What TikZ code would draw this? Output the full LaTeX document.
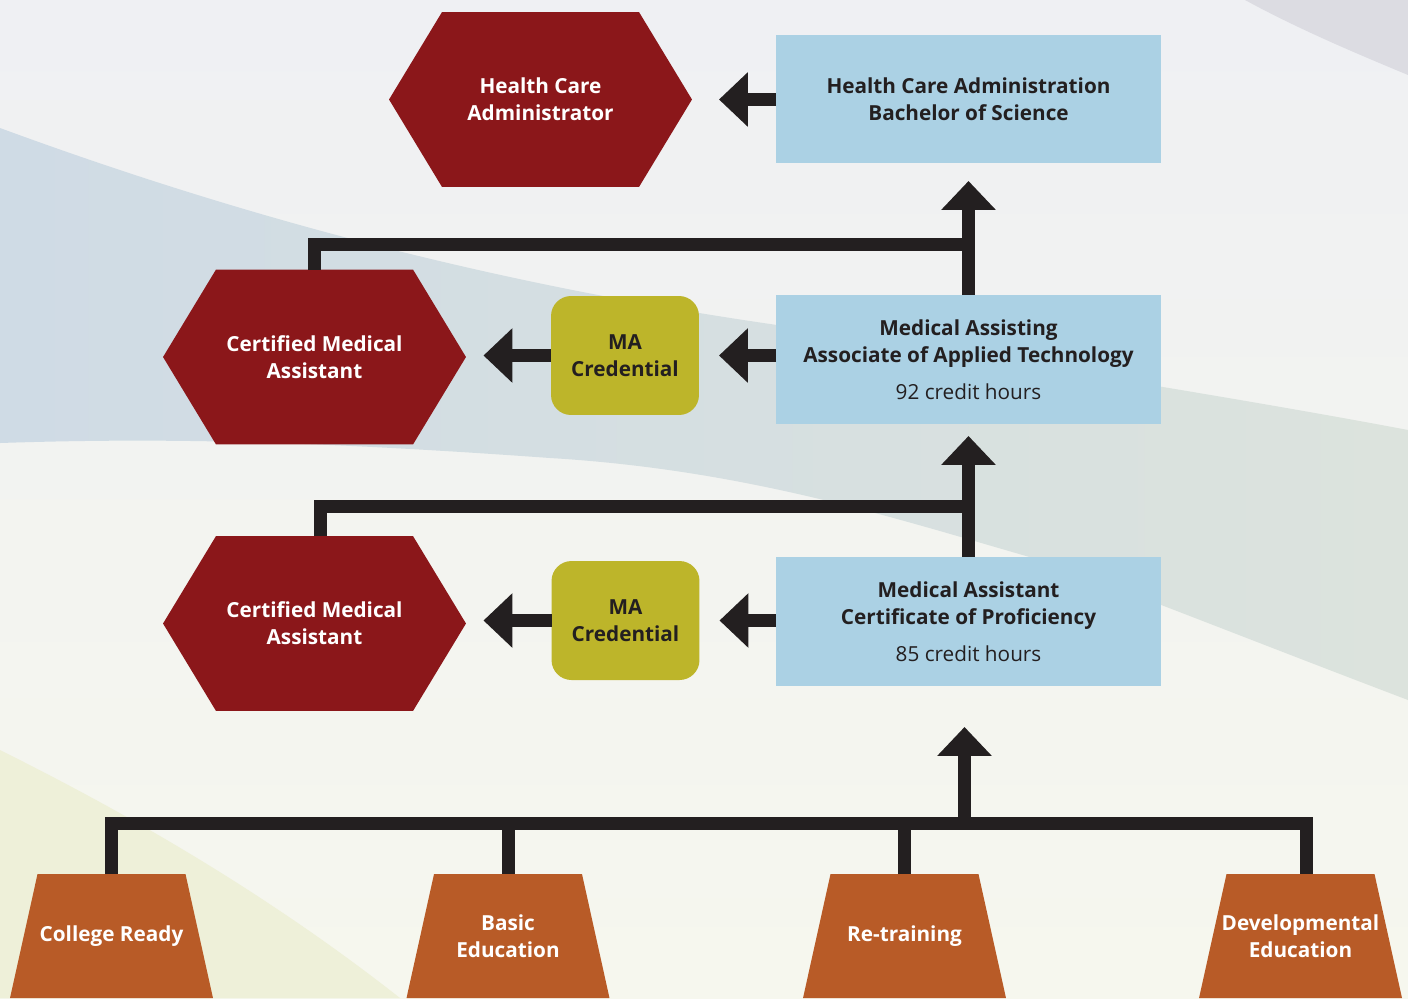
\documentclass[tikz,border=0pt]{standalone}
\usepackage{fontspec}
\setmainfont{Open Sans}
\usetikzlibrary{arrows.meta,shapes.symbols}

\definecolor{ink}{HTML}{231F20}
\definecolor{hexred}{HTML}{8B171A}
\definecolor{boxblue}{HTML}{ABD1E4}
\definecolor{credgreen}{HTML}{BDB52A}
\definecolor{trapbrown}{HTML}{B85B27}
\definecolor{bg-top}{HTML}{EFF0F3}
\definecolor{bg-bottom}{HTML}{F6F7EE}
\definecolor{bg-grey}{HTML}{DCDCE2}
\definecolor{band-left}{HTML}{CFDBE5}
\definecolor{band-right}{HTML}{DCE3DD}
\definecolor{bg-yellow}{HTML}{EEF0D9}

\tikzset{
	label-font/.style={font=\fontsize{11.8}{15.3}\selectfont\bfseries},
	hexagon/.style={signal, signal to=west and east, signal pointer angle=117.6, fill=hexred, text=white,
		minimum width=6.06cm, minimum height=3.5cm, inner sep=0pt, outer sep=0pt, align=center, label-font},
	program/.style={rectangle, fill=boxblue, text=ink, minimum width=7.7cm, minimum height=2.58cm,
		inner sep=0pt, outer sep=0pt, align=center, label-font},
	credential/.style={rectangle, rounded corners=0.4cm, fill=credgreen, text=ink, minimum width=2.96cm,
		minimum height=2.38cm, inner sep=0pt, outer sep=0pt, align=center, label-font},
	entry/.style={rectangle, text=white, minimum width=4.06cm, minimum height=2.48cm, inner sep=0pt,
		outer sep=0pt, align=center, label-font,
		path picture={\fill[trapbrown] ([xshift=0.55cm]path picture bounding box.north west)
			-- ([xshift=-0.55cm]path picture bounding box.north east) -- (path picture bounding box.south east)
			-- (path picture bounding box.south west) -- cycle;}},
	link/.style={draw=ink, line width=0.26cm, line join=miter},
	flow/.style={link, -{Triangle[width=1.06cm,length=0.58cm]}}
}

\begin{document}
\begin{tikzpicture}[x=0.02cm, y=-0.02cm]
	% background
	\shade[top color=bg-top, bottom color=bg-bottom] (0,0) rectangle (1408,998);
	\fill[bg-grey] (1245,0) .. controls (1300,30) and (1360,55) .. (1408,75) -- (1408,0) -- cycle;
	\shade[left color=band-left, right color=band-right] (0,128) .. controls (250,220) and (500,285) .. (777,325)
		.. controls (1000,360) and (1250,400) .. (1408,430) -- (1408,700) .. controls (1250,640) and (1100,580) .. (1040,560)
		.. controls (900,520) and (750,470) .. (550,458) .. controls (300,440) and (150,438) .. (0,443) -- cycle;
	\fill[bg-yellow] (0,750) .. controls (100,800) and (250,880) .. (400,998) -- (0,998) -- cycle;

	\node[hexagon] (hc-admin) at (540.5,99.5) {Health Care\\Administrator};
	\node[program] (hca-bs) at (968.5,99) {Health Care Administration\\Bachelor of Science};

	\node[hexagon] (cma-top) at (314.5,357) {Certified Medical\\Assistant};
	\node[credential] (ma-cred-top) at (625,355.5) {MA\\Credential};
	\node[program] (ma-aat) at (968.5,359.5) {Medical Assisting\\Associate of Applied Technology\\[6pt]{\mdseries 92 credit hours}};

	\node[hexagon] (cma-low) at (314.5,623.5) {Certified Medical\\Assistant};
	\node[credential] (ma-cred-low) at (625.5,620.5) {MA\\Credential};
	\node[program] (ma-cop) at (968.5,621.5) {Medical Assistant\\Certificate of Proficiency\\[6pt]{\mdseries 85 credit hours}};

	\node[entry] (college-ready) at (111.5,936) {College Ready};
	\node[entry] (basic-ed) at (508,936) {Basic\\Education};
	\node[entry] (re-training) at (904.5,936) {Re-training};
	\node[entry] (dev-ed) at (1300.5,936) {Developmental\\Education};

	\coordinate (join-top) at (968.5,244);
	\coordinate (join-mid) at (968.5,506);
	\coordinate (join-low) at (964.5,823.5);

	% left-pointing arrows
	\draw[flow, shorten >=0.54cm] (hca-bs.west |- hc-admin.east) -- (hc-admin.east);
	\draw[flow, shorten >=0.4cm] (ma-aat.west |- ma-cred-top.east) -- (ma-cred-top.east);
	\draw[flow, shorten >=0.35cm] (ma-cred-top.west) -- (cma-top.east |- ma-cred-top.west);
	\draw[flow, shorten >=0.4cm] (ma-cop.west |- ma-cred-low.east) -- (ma-cred-low.east);
	\draw[flow, shorten >=0.35cm] (ma-cred-low.west) -- (cma-low.east |- ma-cred-low.west);

	% upward paths
	\draw[link] (cma-top.north) |- (join-top);
	\draw[flow, shorten >=0.35cm] (ma-aat.north) -- (hca-bs.south);
	\draw[link] ([xshift=0.12cm]cma-low.north) |- (join-mid);
	\draw[flow, shorten >=0.24cm] (ma-cop.north) -- (ma-aat.south);
	\draw[link] (college-ready.north) |- (join-low) -| ([xshift=0.12cm]dev-ed.north);
	\draw[link] (basic-ed.north) -- (basic-ed.north |- join-low);
	\draw[link] (re-training.north) -- (re-training.north |- join-low);
	\draw[flow, shorten >=0.82cm] (join-low) -- (join-low |- ma-cop.south);
\end{tikzpicture}
\end{document}
